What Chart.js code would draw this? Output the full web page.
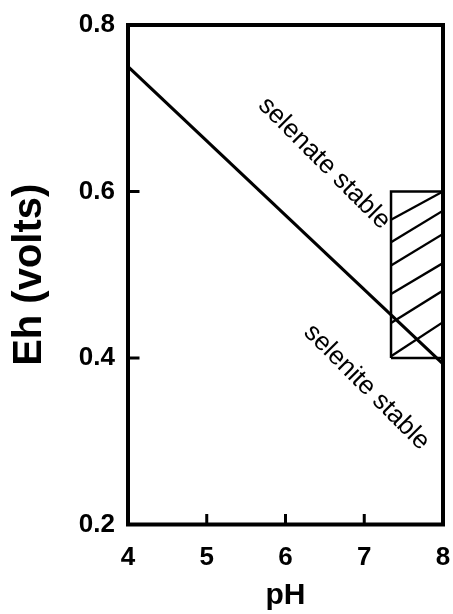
<!DOCTYPE html>
<html>
<head>
<meta charset="utf-8">
<script src="https://cdn.jsdelivr.net/npm/chart.js@4/dist/chart.umd.min.js"></script>
<style>
  html, body { margin: 0; padding: 0; background: #fff; overflow: hidden; }
  #wrap { width: 453px; height: 614px; position: relative; }
  #myChart { display: block; }
</style>
</head>
<body>
<div id="wrap"><canvas id="myChart"></canvas></div>
<script>
// Se(VI)/Se(IV) boundary line
const boundaryPh = [4, 8];
const boundaryEh = [0.75, 0.393];

// measured range box
const boxPh = [7.34, 8];
const boxEh = [0.4, 0.6];

// hatching inside the box: Eh where each stroke meets the left and right edge
const hatchEhLeft = [0.566, 0.539, 0.511, 0.477, 0.442, 0.402];
const hatchEhRight = [0.6, 0.577, 0.549, 0.514, 0.481, 0.443];

const phTicks = [4, 5, 6, 7, 8];
const ehTicks = [0.2, 0.4, 0.6, 0.8];

// field names, drawn slanted
const fieldLabels = ["selenate stable", "selenite stable"];
const fieldLabelPh = [6.49, 7.03];
const fieldLabelEh = [0.634, 0.365];

const FONT = "'Liberation Sans', Arial, Helvetica, sans-serif";

// frame round the plot, inward tick marks and the field names
const framePlugin = {
  id: "frame",
  afterDatasetsDraw(chart) {
    const { ctx, chartArea: a, scales } = chart;
    ctx.save();
    ctx.strokeStyle = "#000";
    ctx.lineCap = "square";

    // inward ticks
    ctx.lineWidth = 3;
    ctx.beginPath();
    scales.x.ticks.forEach((t) => {
      if (t.value === scales.x.min || t.value === scales.x.max) return;
      const px = scales.x.getPixelForValue(t.value);
      ctx.moveTo(px, a.bottom);
      ctx.lineTo(px, a.bottom - 9);
    });
    scales.y.ticks.forEach((t) => {
      if (t.value === scales.y.min || t.value === scales.y.max) return;
      const py = scales.y.getPixelForValue(t.value);
      ctx.moveTo(a.left, py);
      ctx.lineTo(a.left + 10, py);
    });
    ctx.stroke();

    ctx.lineWidth = 4;
    ctx.strokeRect(a.left, a.top, a.right - a.left, a.bottom - a.top);

    ctx.fillStyle = "#000";
    ctx.font = "26px " + FONT;
    ctx.textAlign = "center";
    ctx.textBaseline = "middle";
    for (let i = 0; i < fieldLabels.length; i++) {
      const px = scales.x.getPixelForValue(fieldLabelPh[i]);
      const py = scales.y.getPixelForValue(fieldLabelEh[i]);
      ctx.save();
      ctx.translate(px, py);
      ctx.rotate(Math.PI / 4);
      ctx.fillText(fieldLabels[i], 0, 0);
      ctx.restore();
    }
    ctx.restore();
  },
};

function renderChart() {
  const ctx = document.getElementById("myChart");

  const boundary = boundaryPh.map((ph, i) => ({ x: ph, y: boundaryEh[i] }));
  const box = [
    { x: boxPh[0], y: boxEh[0] },
    { x: boxPh[0], y: boxEh[1] },
    { x: boxPh[1], y: boxEh[1] },
    { x: boxPh[1], y: boxEh[0] },
    { x: boxPh[0], y: boxEh[0] },
  ];

  const datasets = [
    { data: boundary, borderColor: "#000", borderWidth: 3.2 },
    { data: box, borderColor: "#000", borderWidth: 2.5 },
  ];
  // one dataset for every hatch stroke
  for (let i = 0; i < hatchEhLeft.length; i++) {
    datasets.push({
      data: [
        { x: boxPh[0], y: hatchEhLeft[i] },
        { x: boxPh[1], y: hatchEhRight[i] },
      ],
      borderColor: "#000",
      borderWidth: 2.3,
    });
  }
  datasets.forEach((d) => {
    d.showLine = true;
    d.pointRadius = 0;
    d.fill = false;
  });

  new Chart(ctx, {
    type: "scatter",
    data: { datasets: datasets },
    options: {
      responsive: true,
      maintainAspectRatio: false,
      animation: false,
      layout: { padding: { top: 25, right: 10, left: 0, bottom: 0 } },
      plugins: { legend: { display: false }, tooltip: { enabled: false } },
      scales: {
        x: {
          type: "linear",
          min: 4,
          max: 8,
          afterBuildTicks: (scale) => {
            scale.ticks = phTicks.map((v) => ({ value: v }));
          },
          afterFit: (scale) => {
            scale.height = 89.5;
            scale.paddingLeft = 0;
            scale.paddingRight = 0;
          },
          grid: { display: false, drawTicks: false },
          border: { display: false },
          ticks: {
            padding: 18,
            color: "#000",
            font: { family: FONT, size: 26, weight: "bold" },
            callback: (v) => String(v),
          },
          title: {
            display: true,
            text: "pH",
            color: "#000",
            padding: { top: 0, bottom: 0 },
            font: { family: FONT, size: 30, weight: "bold" },
          },
        },
        y: {
          type: "linear",
          min: 0.2,
          max: 0.8,
          afterBuildTicks: (scale) => {
            scale.ticks = ehTicks.map((v) => ({ value: v }));
          },
          afterFit: (scale) => {
            scale.width = 128;
            scale.paddingTop = 0;
            scale.paddingBottom = 0;
          },
          grid: { display: false, drawTicks: false },
          border: { display: false },
          ticks: {
            padding: 13,
            color: "#000",
            font: { family: FONT, size: 26, weight: "bold" },
            callback: (v) => Number(v).toFixed(1),
          },
          title: {
            display: true,
            text: "Eh (volts)",
            color: "#000",
            padding: { top: 6, bottom: 0 },
            font: { family: FONT, size: 40, weight: "bold" },
          },
        },
      },
    },
    plugins: [framePlugin],
  });
}

renderChart();
</script>
</body>
</html>
